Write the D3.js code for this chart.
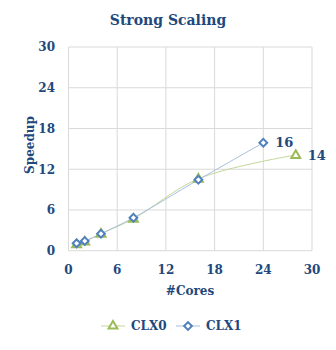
<!DOCTYPE html>
<html><head><meta charset="utf-8">
<script src="https://cdn.jsdelivr.net/npm/d3@7/dist/d3.min.js"></script>
<style>body{margin:0;background:#fff;} text{font-family:"DejaVu Serif","Liberation Serif",serif;font-weight:bold;fill:#1F497D;}</style>
</head><body><svg id="c" width="336" height="350"></svg>
<script>
const xTicks = [0, 6, 12, 18, 24, 30];
const yTicks = [0, 6, 12, 18, 24, 30];
const clx0Cores = [1, 2, 4, 8, 16, 28];
const clx0Speedup = [0.95, 1.35, 2.5, 4.7, 10.6, 14.1];
const clx1Cores = [1, 2, 4, 8, 16, 24];
const clx1Speedup = [1.08, 1.43, 2.5, 4.85, 10.45, 15.9];
const seriesNames = ["CLX0", "CLX1"];

const svg = d3.select("#c");
const x = d3.scaleLinear().domain([0, 30]).range([68.5, 312]);
const y = d3.scaleLinear().domain([0, 30]).range([250.7, 47]);

// grid
svg.append("g").selectAll("line.v").data(xTicks).join("line")
  .attr("x1", d => x(d)).attr("x2", d => x(d)).attr("y1", y(0)).attr("y2", y(30))
  .attr("stroke", "#d9d9d9").attr("stroke-width", 1);
svg.append("g").selectAll("line.h").data(yTicks).join("line")
  .attr("x1", x(0)).attr("x2", x(30)).attr("y1", d => y(d)).attr("y2", d => y(d))
  .attr("stroke", "#d9d9d9").attr("stroke-width", 1);

// tick labels
svg.append("g").selectAll("text").data(yTicks).join("text")
  .attr("x", 55).attr("y", d => y(d)).attr("dy", "0.36em").attr("text-anchor", "end")
  .attr("font-size", 12).text(d => d);
svg.append("g").selectAll("text").data(xTicks).join("text")
  .attr("x", d => x(d)).attr("y", 274).attr("text-anchor", "middle")
  .attr("font-size", 12).text(d => d);

// titles
svg.append("text").attr("x", 168).attr("y", 25).attr("text-anchor", "middle").attr("font-size", 14).text("Strong Scaling");
svg.append("text").attr("x", 190).attr("y", 295).attr("text-anchor", "middle").attr("font-size", 12).text("#Cores");
svg.append("text").attr("transform", "translate(34,145) rotate(-90)").attr("text-anchor", "middle").attr("font-size", 12).text("Speedup");

const green = "#9BBB59", blue = "#4F81BD";
const line = d3.line().curve(d3.curveCatmullRom.alpha(0.5));
const d0 = clx0Cores.map((c, i) => [x(c), y(clx0Speedup[i])]);
const d1 = clx1Cores.map((c, i) => [x(c), y(clx1Speedup[i])]);
svg.append("path").attr("d", line(d0)).attr("fill", "none").attr("stroke", "#c3d69b").attr("stroke-width", 1);
svg.append("path").attr("d", line(d1)).attr("fill", "none").attr("stroke", "#a7bfde").attr("stroke-width", 1);

const tri = d3.symbol().type(d3.symbolTriangle).size(34);
const dia = d3.symbol().type(d3.symbolSquare).size(30);
svg.append("g").selectAll("path").data(d0).join("path")
  .attr("d", tri).attr("transform", d => `translate(${d[0]},${d[1] + 0.5})`)
  .attr("fill", "#fff").attr("stroke", green).attr("stroke-width", 2);
svg.append("g").selectAll("path").data(d1).join("path")
  .attr("d", dia).attr("transform", d => `translate(${d[0]},${d[1]}) rotate(45)`)
  .attr("fill", "#fff").attr("stroke", blue).attr("stroke-width", 2);

// data labels
svg.append("text").attr("x", d1[5][0] + 12).attr("y", d1[5][1]).attr("dy", "0.36em").attr("font-size", 13).text(Math.round(clx1Speedup[5]));
svg.append("text").attr("x", d0[5][0] + 12).attr("y", d0[5][1]).attr("dy", "0.36em").attr("font-size", 13).text(Math.round(clx0Speedup[5]));

// legend
const lg = svg.append("g");
const items = [{name: seriesNames[0], c: green, lc: "#c3d69b", sym: tri, rot: 0, x0: 101},
               {name: seriesNames[1], c: blue, lc: "#a7bfde", sym: dia, rot: 45, x0: 176}];
items.forEach(it => {
  lg.append("line").attr("x1", it.x0).attr("x2", it.x0 + 24).attr("y1", 326).attr("y2", 326).attr("stroke", it.lc).attr("stroke-width", 1);
  lg.append("path").attr("d", it.sym).attr("transform", `translate(${it.x0 + 12},326) rotate(${it.rot})`)
    .attr("fill", "#fff").attr("stroke", it.c).attr("stroke-width", 2);
  lg.append("text").attr("x", it.x0 + 30).attr("y", 326).attr("dy", "0.36em").attr("font-size", 12).text(it.name);
});
</script></body></html>
